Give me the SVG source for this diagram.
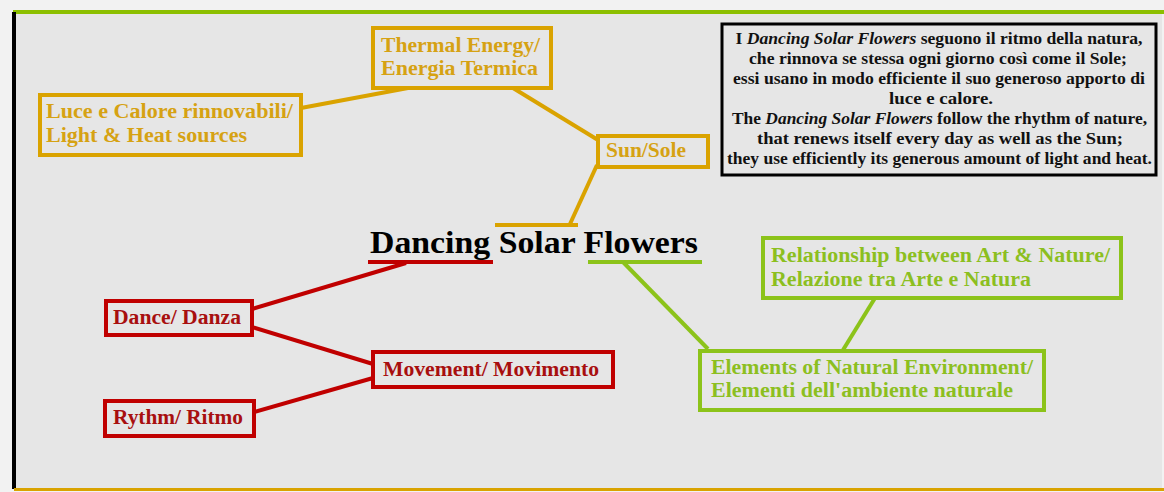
<svg xmlns="http://www.w3.org/2000/svg" width="1164" height="492" viewBox="0 0 1164 492">
<style>
text{font-family:"Liberation Serif","Times New Roman",serif;font-weight:bold}
.gold rect{fill:none;stroke:#daa300;stroke-width:4}
.gold text{fill:#d6a213;font-size:20px}
.red rect{fill:none;stroke:#c00000;stroke-width:4}
.red text{fill:#a80f0f;font-size:20px}
.green rect{fill:none;stroke:#8cc31a;stroke-width:4}
.green text{fill:#8cbf1f;font-size:20px}
.c line{stroke-width:4;stroke-linecap:butt}
.cg{stroke:#daa300}.cr{stroke:#c00000}.cn{stroke:#8cc31a}
.note text{fill:#111;font-size:16.5px;text-anchor:middle}
.note tspan{font-style:italic}
</style>
<rect x="0" y="0" width="1164" height="492" fill="#f2f2f2"/>
<rect x="14" y="12" width="1148" height="477" fill="#e6e6e6"/>
<line x1="13" y1="12" x2="1164" y2="12" stroke="#8cbf00" stroke-width="4"/>
<line x1="14" y1="12" x2="14" y2="489" stroke="#000" stroke-width="4"/>
<line x1="14" y1="489.5" x2="1164" y2="489.5" stroke="#d9a300" stroke-width="3"/>

<g id="connectors" class="c">
<line class="cg" x1="301" y1="108" x2="408" y2="88"/>
<line class="cg" x1="513" y1="88" x2="598" y2="140"/>
<line class="cg" x1="597" y1="165" x2="570" y2="224"/>
<line class="cg" x1="495" y1="225" x2="578" y2="225"/>
<line class="cr" x1="368" y1="262" x2="493" y2="262"/>
<line class="cr" x1="252" y1="309" x2="406" y2="263"/>
<line class="cr" x1="252" y1="327" x2="373" y2="364"/>
<line class="cr" x1="254" y1="412" x2="373" y2="378"/>
<line class="cn" x1="588" y1="262" x2="702" y2="262"/>
<line class="cn" x1="623" y1="262" x2="708" y2="349"/>
<line class="cn" x1="875" y1="298" x2="843" y2="350"/>
</g>

<g id="title"><text x="370" y="253" font-size="32" fill="#000" textLength="328" lengthAdjust="spacingAndGlyphs">Dancing Solar Flowers</text></g>

<g id="luce" class="gold"><rect x="40" y="95" width="261" height="60"/>
<text x="46" y="118" textLength="247" lengthAdjust="spacingAndGlyphs">Luce e Calore rinnovabili/</text><text x="46" y="142" textLength="201" lengthAdjust="spacingAndGlyphs">Light &amp; Heat sources</text></g>
<g id="thermal" class="gold"><rect x="373" y="28" width="178" height="60"/>
<text x="381" y="52" textLength="159" lengthAdjust="spacingAndGlyphs">Thermal Energy/</text><text x="381" y="75" textLength="157" lengthAdjust="spacingAndGlyphs">Energia Termica</text></g>
<g id="sun" class="gold"><rect x="598" y="136" width="110" height="31"/>
<text x="606" y="157" textLength="80" lengthAdjust="spacingAndGlyphs">Sun/Sole</text></g>

<g id="dance" class="red"><rect x="106" y="301" width="146" height="34"/><text x="113" y="324" textLength="128" lengthAdjust="spacingAndGlyphs">Dance/ Danza</text></g>
<g id="rythm" class="red"><rect x="105" y="401" width="149" height="35"/><text x="113" y="424" textLength="130" lengthAdjust="spacingAndGlyphs">Rythm/ Ritmo</text></g>
<g id="movement" class="red"><rect x="373" y="352" width="240" height="35"/><text x="383" y="376" textLength="216" lengthAdjust="spacingAndGlyphs">Movement/ Movimento</text></g>

<g id="relationship" class="green"><rect x="763" y="238" width="358" height="60"/>
<text x="771" y="262" textLength="339" lengthAdjust="spacingAndGlyphs">Relationship between Art &amp; Nature/</text><text x="771" y="286" textLength="260" lengthAdjust="spacingAndGlyphs">Relazione tra Arte e Natura</text></g>
<g id="elements" class="green"><rect x="700" y="351" width="344" height="59"/>
<text x="711" y="374" textLength="322" lengthAdjust="spacingAndGlyphs">Elements of Natural Environment/</text><text x="711" y="397" textLength="302" lengthAdjust="spacingAndGlyphs">Elementi dell'ambiente naturale</text></g>

<g id="note" class="note"><rect x="722" y="24" width="434" height="151" fill="none" stroke="#000" stroke-width="3"/>
<text x="939" y="44" textLength="407" lengthAdjust="spacingAndGlyphs">I <tspan>Dancing Solar Flowers</tspan> seguono il ritmo della natura,</text>
<text x="938" y="64" textLength="378" lengthAdjust="spacingAndGlyphs">che rinnova se stessa ogni giorno così come il Sole;</text>
<text x="939" y="84" textLength="412" lengthAdjust="spacingAndGlyphs">essi usano in modo efficiente il suo generoso apporto di</text>
<text x="941" y="104" textLength="104" lengthAdjust="spacingAndGlyphs">luce e calore.</text>
<text x="939.5" y="124" textLength="415" lengthAdjust="spacingAndGlyphs">The <tspan>Dancing Solar Flowers</tspan> follow the rhythm of nature,</text>
<text x="940" y="144" textLength="366" lengthAdjust="spacingAndGlyphs">that renews itself every day as well as the Sun;</text>
<text x="939.5" y="164" textLength="425" lengthAdjust="spacingAndGlyphs">they use efficiently its generous amount of light and heat.</text>
</g>
</svg>
